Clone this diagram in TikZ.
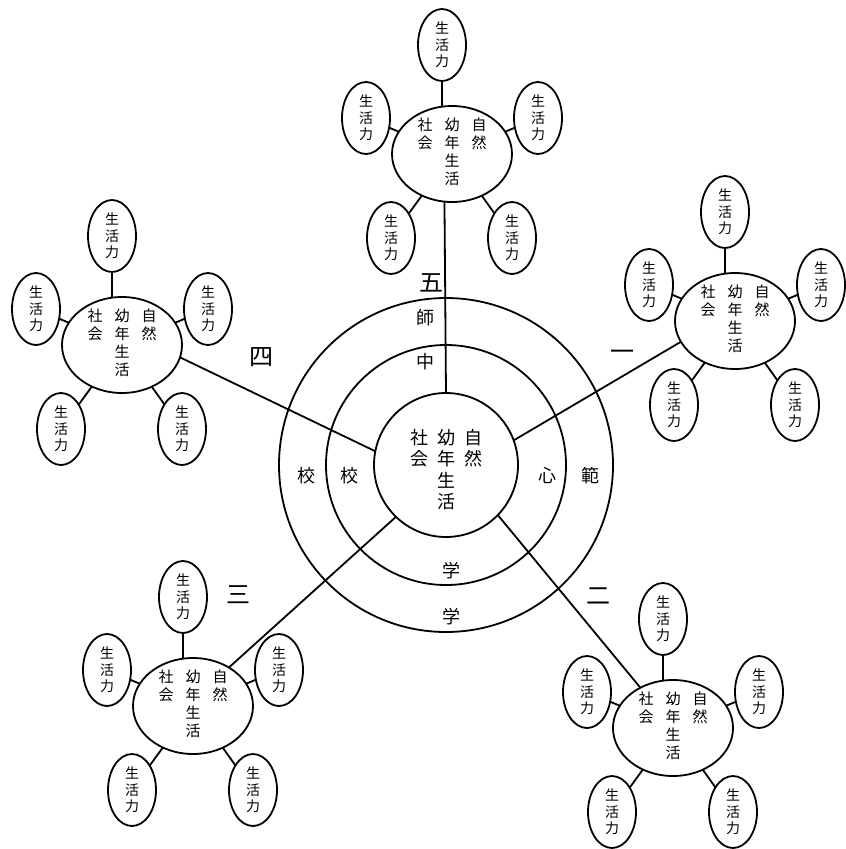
\documentclass[tikz,border=0pt]{standalone}
\usepackage{fontspec}
\newfontfamily\jp{Noto Sans CJK JP}
\usetikzlibrary{shapes.geometric}
\newcommand\vcol[1]{\begin{tabular}[t]{@{}c@{}}#1\end{tabular}}
\tikzset{
  ln/.style={line width=1.8pt},
  ring/.style={circle,draw,line width=1.8pt,inner sep=0pt,outer sep=0pt},
  cell/.style={ellipse,draw,line width=1.8pt,minimum width=120pt,minimum height=96pt,inner sep=0pt,outer sep=0pt},
  sell/.style={ellipse,draw,line width=1.8pt,minimum width=48pt,minimum height=72pt,inner sep=0pt,outer sep=0pt,align=center,font=\jp\fontsize{14}{16.5}\selectfont},
  ctext/.style={inner sep=0pt,font=\jp\fontsize{15}{18}\selectfont},
  mtext/.style={inner sep=0pt,font=\jp\fontsize{18}{21}\selectfont},
  rlabel/.style={inner sep=0pt,font=\jp\fontsize{18}{21}\selectfont},
  nlabel/.style={inner sep=0pt,font=\jp\fontsize{24}{26}\selectfont},
}
\newcommand\mkcluster[3]{%
  \node[cell] (#1c) at (#2,#3) {};
  \node[ctext] (#1x) at (#2,#3) {\vcol{社\\会}\hspace{12pt}\vcol{幼\\年\\生\\活}\hspace{12pt}\vcol{自\\然}};
  \node[sell] (#1t) at ({#2-10},{#3-109}) {生\\活\\力};
  \node[sell] (#1l) at ({#2-86},{#3-36}) {生\\活\\力};
  \node[sell] (#1r) at ({#2+86},{#3-36}) {生\\活\\力};
  \node[sell] (#1bl) at ({#2-61},{#3+84}) {生\\活\\力};
  \node[sell] (#1br) at ({#2+60},{#3+84}) {生\\活\\力};
  \draw[ln] (#1t.south) -- (#1c.north -| #1t.south);
  \draw[ln] (#1l) -- (#1c);
  \draw[ln] (#1r) -- (#1c);
  \draw[ln] (#1bl) -- (#1c);
  \draw[ln] (#1br) -- (#1c);
}
\begin{document}
\begin{tikzpicture}[x=1pt,y=-1pt]
\useasboundingbox (0,0) rectangle (846,849);
\fill[white] (0,0) rectangle (846,849);
% concentric circles
\node[ring,minimum size=334pt] (outer) at (446,465) {};
\node[ring,minimum size=240pt] (middle) at (446,465) {};
\node[ring,minimum size=144pt] (inner) at (446,465) {};
\node[mtext] (ctr) at (446,472) {\vcol{社\\会}\hspace{9pt}\vcol{幼\\年\\生\\活}\hspace{9pt}\vcol{自\\然}};
% ring labels
\node[rlabel] (shi) at (425,318) {師};
\node[rlabel] (chu) at (425,362) {中};
\node[rlabel] (ko1) at (306,476) {校};
\node[rlabel] (ko2) at (349,476) {校};
\node[rlabel] (shin) at (547,476) {心};
\node[rlabel] (han) at (590,476) {範};
\node[rlabel] (gaku1) at (451,571) {学};
\node[rlabel] (gaku2) at (451,617) {学};
% numerals
\node[nlabel] (n5) at (431,283) {五};
\node[nlabel] (n1) at (622,355) {一};
\node[nlabel] (n2) at (598,596) {二};
\node[nlabel] (n3) at (238,595) {三};
\node[nlabel] (n4) at (261,357) {四};
% clusters
\mkcluster{e5}{452}{154}
\mkcluster{e4}{122}{345}
\mkcluster{e1}{735}{321}
\mkcluster{e3}{193}{706}
\mkcluster{e2}{673}{728}
% connectors to centre
\draw[ln] (e5c.261.7) -- (inner.90);
\draw[ln] (e4c.-12) -- (inner.169.5);
\draw[ln] (e1c.201.8) -- (inner.20.2);
\draw[ln] (e3c.47) -- (inner.226);
\draw[ln] (e2c.129) -- (inner.316);
\end{tikzpicture}
\end{document}
